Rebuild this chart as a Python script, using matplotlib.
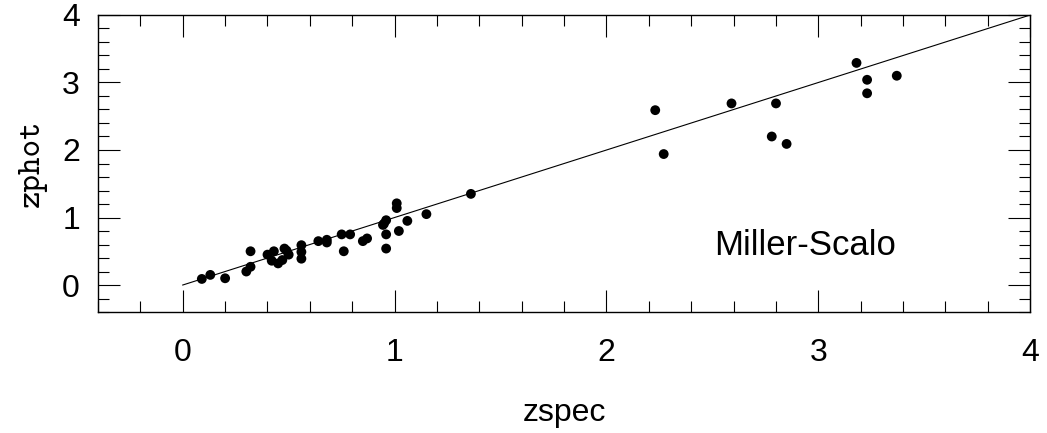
import numpy as np
import matplotlib
matplotlib.use("Agg")
import matplotlib.pyplot as plt
from matplotlib.ticker import MultipleLocator

# spectroscopic vs photometric redshifts
zspec = [0.09, 0.13, 0.20, 0.30, 0.32, 0.32, 0.40, 0.43, 0.42, 0.45, 0.47,
         0.48, 0.49, 0.50, 0.56, 0.56, 0.56, 0.64, 0.68, 0.68, 0.75, 0.79,
         0.76, 0.85, 0.87, 0.96, 0.95, 0.945, 0.96, 0.96, 1.01, 1.01, 1.02,
         1.06, 1.15, 1.36,
         2.23, 2.27, 2.59, 2.80, 2.78, 2.85, 3.18, 3.23, 3.23, 3.37]
zphot = [0.09, 0.15, 0.10, 0.20, 0.27, 0.50, 0.45, 0.50, 0.36, 0.32, 0.37,
         0.54, 0.51, 0.45, 0.59, 0.49, 0.39, 0.65, 0.67, 0.63, 0.75, 0.75,
         0.50, 0.65, 0.69, 0.96, 0.91, 0.89, 0.75, 0.54, 1.21, 1.14, 0.80,
         0.95, 1.05, 1.35,
         2.59, 1.94, 2.69, 2.69, 2.20, 2.09, 3.29, 3.04, 2.84, 3.10]
line_x = [0, 4]

sans = "Liberation Sans"

fig = plt.figure(figsize=(10.47, 4.33), dpi=100)
ax = fig.add_axes([0.0936, 0.2794, 0.8904, 0.686])

ax.plot(line_x, line_x, color="black", lw=0.8)
ax.scatter(zspec, zphot, s=50, color="black", edgecolors="none", zorder=3)

ax.set_xlim(-0.4, 4)
ax.set_ylim(-0.4, 4)
for a in (ax.xaxis, ax.yaxis):
    a.set_major_locator(MultipleLocator(1))
    a.set_minor_locator(MultipleLocator(0.2))

ax.tick_params(which="both", direction="in", top=True, right=True,
               width=0.8, colors="black")
ax.tick_params(which="major", length=15.5)
ax.tick_params(which="minor", length=7.8)
ax.tick_params(axis="x", which="major", pad=19)
ax.tick_params(axis="y", which="major", pad=13)
for lab in ax.get_xticklabels() + ax.get_yticklabels():
    lab.set_fontfamily(sans)
    lab.set_fontsize(23)
for s in ax.spines.values():
    s.set_linewidth(1.0)

ax.set_xlabel("zspec", fontfamily=sans, fontsize=23, labelpad=21)
ax.set_ylabel("zphot", fontfamily="cmtt10", fontsize=24, labelpad=11)

ax.text(2.51, 0.59, "Miller-Scalo", fontfamily=sans, fontsize=25,
        ha="left", va="center")

fig.savefig("out.png", dpi=100)
